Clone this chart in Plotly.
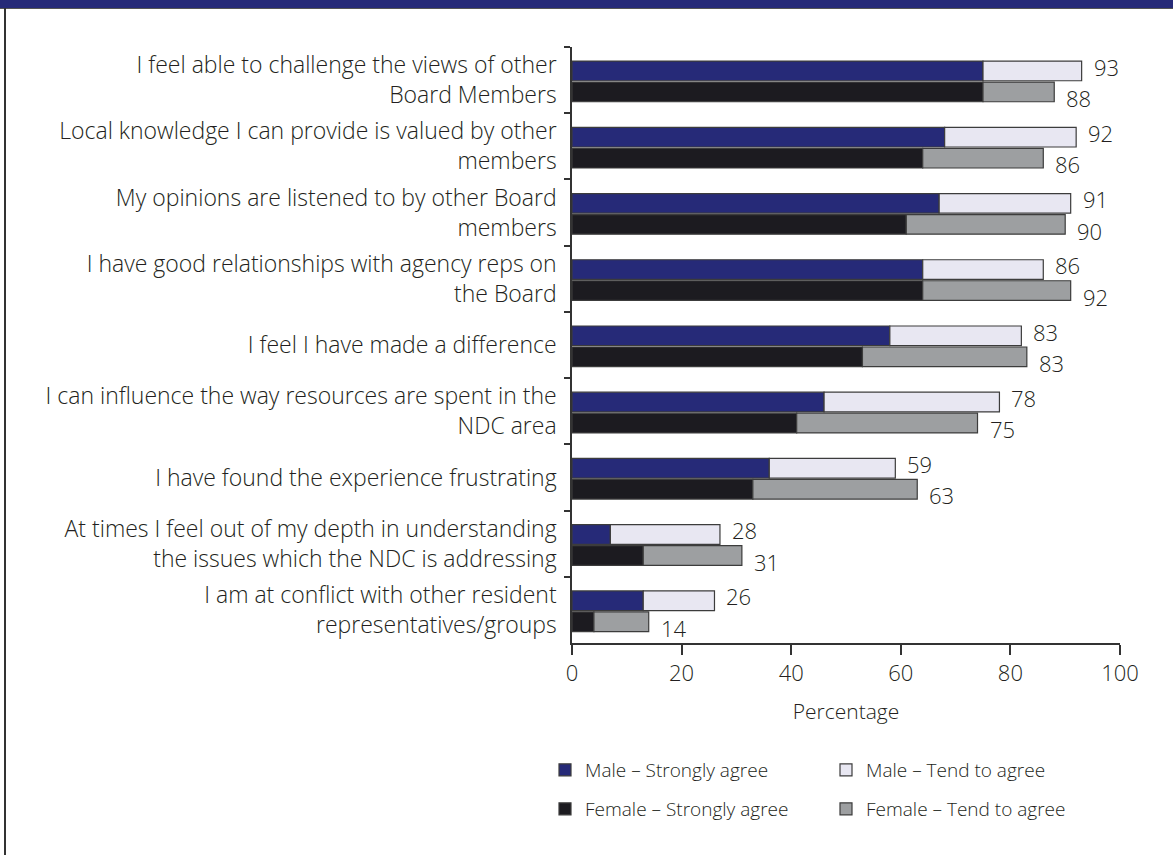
import plotly.graph_objects as go

categories = [
    "I feel able to challenge the views of other<br>Board Members",
    "Local knowledge I can provide is valued by other<br>members",
    "My opinions are listened to by other Board<br>members",
    "I have good relationships with agency reps on<br>the Board",
    "I feel I have made a difference",
    "I can influence the way resources are spent in the<br>NDC area",
    "I have found the experience frustrating",
    "At times I feel out of my depth in understanding<br>the issues which the NDC is addressing",
    "I am at conflict with other resident<br>representatives/groups",
]
male_strong = [75, 68, 67, 64, 58, 46, 36, 7, 13]
male_tend = [18, 24, 24, 22, 24, 32, 23, 20, 13]
female_strong = [75, 64, 61, 64, 53, 41, 33, 13, 4]
female_tend = [13, 22, 29, 27, 30, 33, 30, 18, 10]
male_labels = [93, 92, 91, 86, 83, 78, 59, 28, 26]
female_labels = [88, 86, 90, 92, 83, 75, 63, 31, 14]
x_ticks = [0, 20, 40, 60, 80, 100]

W, H = 1173, 855
L, R, T, B = 572, 53, 47, 212
PW, PH = W - L - R, H - T - B

def px2x(px):
    return (px - L) / PW

def py2y(py):
    return (H - B - py) / PH

C_MS, C_MT, C_FS, C_FT = "#262a78", "#e8e7f2", "#1c1b20", "#9d9fa1"
EDGE = dict(color="#3c3c3c", width=1.2)
FONT = "Open Sans, Lato, sans-serif"
TXT = "#231f20"

def f(size):
    return dict(size=size, color=TXT, family=FONT, weight=300)

fig = go.Figure()
m_off, f_off, bw = -0.287, 0.03, 0.297

fig.add_trace(go.Bar(y=categories, x=male_strong, orientation="h", name="Male – Strongly agree",
                     marker=dict(color=C_MS, line=EDGE), offset=m_off, width=bw, legend="legend"))
fig.add_trace(go.Bar(y=categories, x=male_tend, base=male_strong, orientation="h", name="Male – Tend to agree",
                     marker=dict(color=C_MT, line=EDGE), offset=m_off, width=bw, legend="legend"))
fig.add_trace(go.Bar(y=categories, x=female_strong, orientation="h", name="Female – Strongly agree",
                     marker=dict(color=C_FS, line=EDGE), offset=f_off, width=bw, legend="legend2"))
fig.add_trace(go.Bar(y=categories, x=female_tend, base=female_strong, orientation="h", name="Female – Tend to agree",
                     marker=dict(color=C_FT, line=EDGE), offset=f_off, width=bw, legend="legend2"))

annotations = []
for cat, s, t, lab in zip(categories, male_strong, male_tend, male_labels):
    annotations.append(dict(x=s + t, y=cat, xref="x", yref="y", text=str(lab), showarrow=False,
                            xanchor="left", yanchor="middle", xshift=10, yshift=13.5, font=f(22)))
for cat, s, t, lab in zip(categories, female_strong, female_tend, female_labels):
    annotations.append(dict(x=s + t, y=cat, xref="x", yref="y", text=str(lab), showarrow=False,
                            xanchor="left", yanchor="middle", xshift=10, yshift=-18, font=f(22)))

legend_common = dict(orientation="h", xanchor="left", yanchor="middle", entrywidth=236,
                     font=f(19), bgcolor="rgba(0,0,0,0)",
                     traceorder="normal", itemclick=False)

fig.update_layout(
    width=W, height=H,
    margin=dict(l=L, r=R, t=T, b=B, autoexpand=False),
    paper_bgcolor="white", plot_bgcolor="white",
    barmode="overlay",
    font=f(20),
    showlegend=True,
    legend=dict(x=px2x(545), y=py2y(770), **legend_common),
    legend2=dict(x=px2x(545), y=py2y(809), **legend_common),
    annotations=annotations,
    xaxis=dict(range=[0, 100], tickvals=x_ticks, ticks="outside", ticklen=10, tickwidth=1.5,
               tickcolor="#333", showline=True, linecolor="#333", linewidth=1.5, showgrid=False,
               zeroline=False, tickfont=f(22),
               title=dict(text="Percentage", font=f(21), standoff=18)),
    yaxis=dict(type="category", categoryorder="array", categoryarray=categories,
               range=[len(categories) - 0.5, -0.5], tickson="boundaries", ticks="outside",
               ticklen=6, tickwidth=1.5, tickcolor="#333", showline=True, linecolor="#333",
               linewidth=1.5, showgrid=False, zeroline=False, tickfont=f(23),
               ticklabelstandoff=9),
    shapes=[
        dict(type="rect", xref="paper", yref="paper", x0=px2x(0), x1=px2x(W), y0=py2y(8), y1=py2y(0),
             fillcolor=C_MS, line=dict(width=0), layer="above"),
        dict(type="line", xref="paper", yref="paper", x0=px2x(0), x1=px2x(W), y0=py2y(8.5), y1=py2y(8.5),
             line=dict(color="#555", width=1)),
        dict(type="line", xref="paper", yref="paper", x0=px2x(5), x1=px2x(5), y0=py2y(8), y1=py2y(H),
             line=dict(color="#333", width=2)),
    ],
)

fig.write_html("out.html", config={"displayModeBar": False},
               post_script="document.body.style.margin='0';document.body.style.padding='0';")
